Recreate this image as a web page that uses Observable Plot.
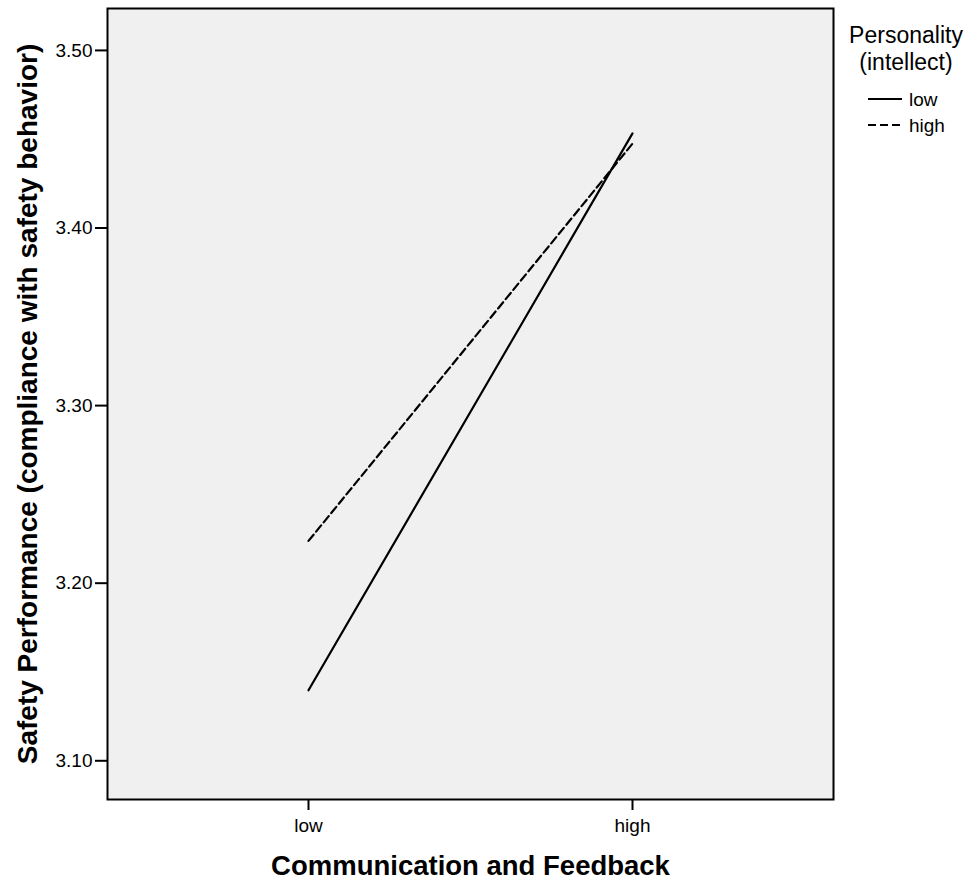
<!DOCTYPE html>
<html>
<head>
<meta charset="utf-8">
<script src="https://cdn.jsdelivr.net/npm/d3@7"></script>
<script src="https://cdn.jsdelivr.net/npm/@observablehq/plot@0.6"></script>
<style>
  html, body { margin: 0; padding: 0; background: white; }
</style>
</head>
<body>
<div id="chart"></div>
<script>
// Data
const xCategories = ["low", "high"];
const seriesNames = ["low", "high"];
const lowSeries = [3.1397, 3.4533];
const highSeries = [3.2238, 3.4475];
const yTicks = [3.10, 3.20, 3.30, 3.40, 3.50];
const yTitle = "Safety Performance (compliance with safety behavior)";
const xTitle = "Communication and Feedback";
const legendTitle = ["Personality", "(intellect)"];
const dashes = {"low": null, "high": "8,4"};

const rows = [];
xCategories.forEach((c, i) => {
  rows.push({x: c, y: lowSeries[i], series: "low"});
  rows.push({x: c, y: highSeries[i], series: "high"});
});

const font = "'Liberation Sans', Arial, Helvetica, sans-serif";

const chart = Plot.plot({
  width: 972,
  height: 882,
  marginLeft: 107,
  marginRight: 139,
  marginTop: 8,
  marginBottom: 83,
  style: {fontFamily: font, fontSize: "19px", color: "black", background: "white"},
  x: {type: "point", domain: xCategories, padding: 0.617, label: null},
  y: {domain: [3.0782, 3.5236], label: null},
  marks: [
    Plot.frame({fill: "#f0f0f0"}),
    Plot.axisY({ticks: yTicks, tickFormat: d => d.toFixed(2), tickSize: 12, tickPadding: 3, label: null, strokeWidth: 2, fontSize: 19}),
    Plot.axisX({tickSize: 11, tickPadding: 8, label: null, strokeWidth: 2, fontSize: 19}),
    ...seriesNames.map(s => Plot.line(rows.filter(r => r.series === s), {
      x: "x", y: "y", stroke: "black", strokeWidth: 2.2,
      strokeDasharray: dashes[s] || undefined
    })),
    Plot.frame({stroke: "black", strokeWidth: 2}),
    Plot.text([yTitle], {text: d => d, frameAnchor: "left", textAnchor: "middle", lineAnchor: "middle", dx: -79, rotate: -90, fontWeight: "bold", fontSize: 28}),
    Plot.text([xTitle], {text: d => d, frameAnchor: "bottom", textAnchor: "middle", lineAnchor: "middle", dy: 67, fontWeight: "bold", fontSize: 27.5})
  ]
});

// Legend appended into the same SVG
const svg = d3.select(chart);
const lg = svg.append("g").attr("font-family", font).attr("fill", "black");
legendTitle.forEach((t, i) => {
  lg.append("text").attr("x", 906).attr("y", 43 + i * 27)
    .attr("text-anchor", "middle").attr("font-size", 23).text(t);
});
seriesNames.forEach((s, i) => {
  const yy = 99 + i * 26;
  lg.append("line").attr("x1", 868).attr("x2", 902).attr("y1", yy).attr("y2", yy)
    .attr("stroke", "black").attr("stroke-width", 2)
    .attr("stroke-dasharray", dashes[s]);
  lg.append("text").attr("x", 909).attr("y", yy).attr("dy", "0.35em")
    .attr("text-anchor", "start").attr("font-size", 19).text(s);
});

document.getElementById("chart").appendChild(chart);
</script>
</body>
</html>
